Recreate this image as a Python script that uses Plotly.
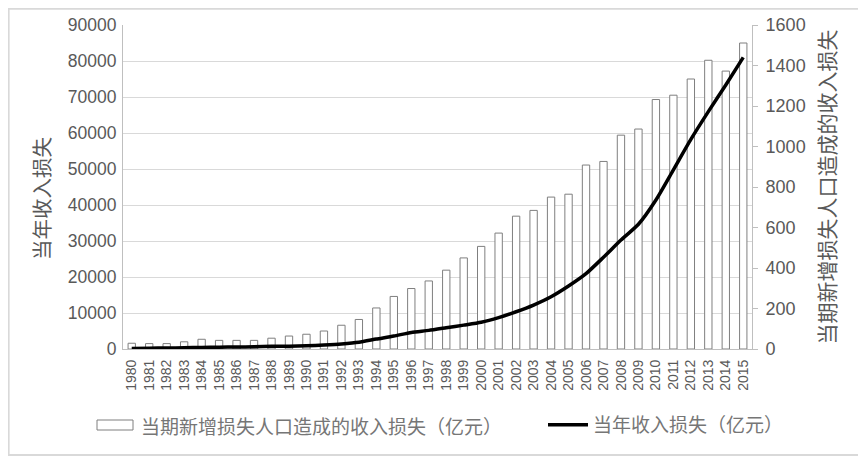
import plotly.graph_objects as go

years = [str(y) for y in range(1980, 2016)]

# 当期新增损失人口造成的收入损失（亿元） — read on left scale
new_loss = [1600, 1500, 1500, 2000, 2700, 2400, 2400, 2400, 3000, 3600,
            4100, 5000, 6600, 8200, 11400, 14600, 16800, 18900, 21900, 25300,
            28500, 32200, 36900, 38500, 42200, 43000, 51100, 52100, 59400, 61100,
            69300, 70500, 75000, 80200, 77200, 85000]

# 当年收入损失（亿元） — read on right scale
year_loss = [3, 4, 5, 6, 8, 9, 10, 11, 13, 14,
             16, 20, 25, 33, 49, 64, 82, 92, 105, 118,
             132, 155, 184, 217, 258, 311, 372, 453, 538, 616,
             736, 885, 1035, 1172, 1304, 1440]

bar_name = "当期新增损失人口造成的收入损失（亿元）"
line_name = "当年收入损失（亿元）"
left_title = "当年收入损失"
right_title = "当期新增损失人口造成的收入损失"

cjk = "Noto Sans CJK SC"
num = "Liberation Sans"
gray = "#595959"

# page body has an 8px margin; work in figure coords = screen - 8
OFF = 8
FW, FH = 866 - OFF, 457 - OFF
L, R, T, B = 123 - OFF, 752 - OFF, 25 - OFF, 349 - OFF
W, H = R - L, B - T


def px(x):
    return (x - OFF - L) / W


def py(y):
    return (B - (y - OFF)) / H


fig = go.Figure()
fig.add_trace(go.Bar(
    x=years, y=new_loss, name=bar_name,
    marker=dict(color="white", line=dict(color="#7f7f7f", width=1)),
    yaxis="y", showlegend=False,
))
fig.add_trace(go.Scatter(
    x=years, y=year_loss, name=line_name, mode="lines",
    line=dict(color="black", width=3.5, shape="spline", smoothing=0.6),
    yaxis="y2", legend="legend2",
))

fig.update_layout(
    width=FW, height=FH,
    margin=dict(l=L, r=FW - R, t=T, b=FH - B),
    paper_bgcolor="white", plot_bgcolor="white",
    bargap=0.58,
    legend2=dict(orientation="h", x=px(543), xanchor="left", y=py(425), yanchor="middle",
                 font=dict(family=cjk, size=19, color="#767676"),
                 itemwidth=40, bgcolor="rgba(0,0,0,0)"),
    xaxis=dict(type="category", range=[-0.5, 35.5], tickangle=-90,
               tickfont=dict(family=num, size=14, color=gray),
               showline=True, linecolor="#bfbfbf", linewidth=1, ticks="",
               ticklabelstandoff=4,
               showgrid=False, automargin=False),
    yaxis=dict(range=[0, 90000], dtick=10000, tickformat="d",
               tickfont=dict(family=num, size=17.5, color=gray),
               showgrid=True, gridcolor="#d9d9d9", gridwidth=1,
               showline=True, linecolor="#bfbfbf", linewidth=1, ticks="",
               ticklabelstandoff=2,
               zeroline=False, automargin=False),
    yaxis2=dict(range=[0, 1600], dtick=200, overlaying="y", side="right",
                tickfont=dict(family=num, size=18, color=gray),
                showgrid=False, zeroline=False, automargin=False,
                showline=True, linecolor="#bfbfbf", linewidth=1,
                ticks="outside", ticklen=5, tickcolor="#bfbfbf",
                ticklabelstandoff=4,
                title=dict(text=right_title, font=dict(family=cjk, size=21, color=gray), standoff=15)),
    shapes=[
        dict(type="rect", xref="paper", yref="paper",
             x0=-L / W + 0.001, x1=px(863), y0=py(455), y1=(B) / H - 0.002,
             line=dict(color="#d9d9d9", width=2), fillcolor="rgba(0,0,0,0)", layer="below"),
        dict(type="rect", xref="paper", yref="paper",
             x0=px(97), x1=px(133), y0=py(430), y1=py(420),
             line=dict(color="#7f7f7f", width=1), fillcolor="white"),
    ],
    annotations=[
        dict(text=bar_name, xref="paper", yref="paper", x=px(139), y=py(425),
             xanchor="left", yanchor="middle", showarrow=False,
             font=dict(family=cjk, size=19, color="#767676")),
        dict(text=left_title, xref="paper", yref="paper", x=px(41), y=py(199),
             xanchor="center", yanchor="middle", showarrow=False, textangle=-90,
             font=dict(family=cjk, size=20.5, color=gray)),
    ],
)

fig.write_html("out.html")
